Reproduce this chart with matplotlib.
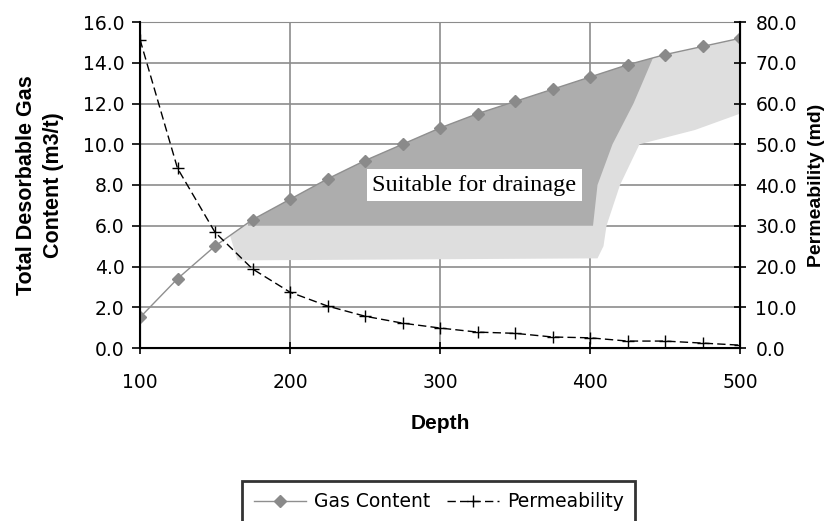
import numpy as np
import matplotlib.pyplot as plt

depth = [100, 125, 150, 175, 200, 225, 250, 275, 300, 325, 350, 375, 400, 425, 450, 475, 500]
gas_content = [1.5, 3.4, 5.0, 6.3, 7.3, 8.3, 9.2, 10.0, 10.8, 11.5, 12.1, 12.7, 13.3, 13.9, 14.4, 14.8, 15.2]
permeability = [75.7, 44.1, 28.4, 19.4, 13.7, 10.3, 7.8, 6.1, 4.9, 3.9, 3.6, 2.7, 2.5, 1.7, 1.7, 1.2, 0.7]

# outline of the drainage zone (depth, gas content)
light_zone_x = [160, 500, 500, 470, 433, 420, 411, 409, 405, 165]
light_zone_y = [5.5, 15.2, 11.5, 10.7, 10.0, 8.0, 6.0, 5.0, 4.4, 4.3]
dark_zone_x = [172, 442, 436, 429, 415, 405, 402, 172]
dark_zone_y = [6.0, 14.2, 13.2, 12.0, 10.0, 8.0, 6.0, 6.0]

plt.rcParams['font.family'] = ['DejaVu Sans']

fig = plt.figure(figsize=(8.32, 5.21), dpi=100)
ax = fig.add_axes([140 / 832, 1 - 348 / 521, 600 / 832, 326 / 521])
ax2 = ax.twinx()

# fill the zone on the left axis, following the gas curve on top
def zone(xs, ys):
    xs = list(xs)
    ys = list(ys)
    x0, x1 = xs[0], xs[1]
    top_x = [x0] + [d for d in depth if x0 < d < x1] + [x1]
    top_y = [float(np.interp(d, depth, gas_content)) for d in top_x]
    return top_x + xs[2:], top_y + ys[2:]

lx, ly = zone(light_zone_x, light_zone_y)
ax.fill(lx, ly, color='#dedede', lw=0, zorder=1)
dx, dy = zone(dark_zone_x, dark_zone_y)
ax.fill(dx, dy, color='#adadad', lw=0, zorder=1)

ax.set_xlim(100, 500)
ax.set_ylim(0, 16)
ax2.set_ylim(0, 80)
ax.set_xticks([100, 200, 300, 400, 500])
ax.set_yticks(np.arange(0, 16.1, 2))
ax2.set_yticks(np.arange(0, 80.1, 10))
ax.set_yticklabels([f'{v:.1f}' for v in np.arange(0, 16.1, 2)])
ax2.set_yticklabels([f'{v:.1f}' for v in np.arange(0, 80.1, 10)])

ax.grid(True, color='#8c8c8c', lw=1.2, zorder=0)
ax.set_axisbelow(True)

ax.spines['top'].set_color('#8c8c8c')
ax2.spines['top'].set_visible(False)
for s in ['left', 'bottom']:
    ax.spines[s].set_linewidth(1.5)
ax2.spines['right'].set_linewidth(1.5)

ax.tick_params(axis='both', labelsize=13.5, length=6, width=1.2, colors='black')
ax.tick_params(axis='y', pad=5)
ax.tick_params(axis='x', direction='inout', length=8, pad=14)
ax2.tick_params(axis='y', labelsize=13.5, direction='inout', length=8, width=1.2, pad=7)

g, = ax.plot(depth, gas_content, color='#8f8f8f', lw=1, marker='D', ms=6,
             mfc='#8a8a8a', mec='#8a8a8a', zorder=3, label='Gas Content')
p, = ax2.plot(depth, permeability, color='black', lw=1, ls=(0, (6, 3)),
              marker='+', ms=8, mew=1, zorder=3, label='Permeability')

ax.text(323, 8.0, 'Suitable for drainage', family='Liberation Serif',
        fontsize=17.5, ha='center', va='center', zorder=4,
        bbox=dict(facecolor='white', edgecolor='none', pad=4))

ax.set_xlabel('Depth', family='Liberation Sans', fontsize=15, fontweight='bold', labelpad=16)
ax.set_ylabel('Total Desorbable Gas\nContent (m3/t)', family='Liberation Sans', fontsize=15.5,
              fontweight='bold', labelpad=14, linespacing=1.35)
ax2.set_ylabel('Permeability (md)', family='Liberation Sans', fontsize=14, fontweight='bold', labelpad=8)

leg = fig.legend(handles=[g, p], loc='upper center', ncol=2, bbox_to_anchor=(438.5 / 832, 1 - 481 / 521),
                 fontsize=13.5, frameon=True, fancybox=False, handlelength=2.8,
                 columnspacing=0.9, handletextpad=0.4, borderpad=0.6, borderaxespad=0)
leg.get_frame().set_edgecolor('black')
leg.get_frame().set_linewidth(2)

fig.savefig('out.png', dpi=100)
